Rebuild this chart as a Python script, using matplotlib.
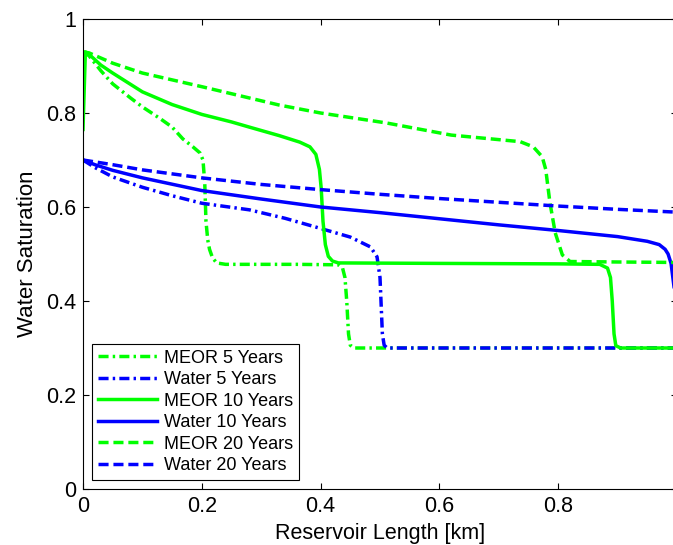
import matplotlib
matplotlib.use("Agg")
import matplotlib.pyplot as plt

plt.rcParams["font.family"] = ["Liberation Sans", "DejaVu Sans"]

GREEN = "#00ff00"
BLUE = "#0000ff"

# MEOR 5 years
meor5_x = [0.0, 0.01, 0.03, 0.05, 0.08, 0.10, 0.13, 0.15, 0.168, 0.185, 0.197, 0.202,
           0.205, 0.207, 0.210, 0.213, 0.218, 0.225, 0.24, 0.30, 0.36, 0.43, 0.437,
           0.441, 0.444, 0.447, 0.450, 0.456, 0.60, 0.80, 1.0]
meor5_y = [0.93, 0.922, 0.89, 0.862, 0.832, 0.813, 0.788, 0.770, 0.745, 0.728, 0.715,
           0.700, 0.650, 0.570, 0.530, 0.510, 0.492, 0.481, 0.478, 0.478, 0.478, 0.477,
           0.470, 0.450, 0.400, 0.330, 0.306, 0.300, 0.300, 0.300, 0.300]

# Water 5 years
water5_x = [0.0, 0.02, 0.05, 0.10, 0.15, 0.20, 0.28, 0.34, 0.39, 0.45, 0.484, 0.495,
            0.500, 0.502, 0.504, 0.507, 0.512, 0.60, 0.80, 1.0]
water5_y = [0.700, 0.684, 0.664, 0.642, 0.624, 0.608, 0.594, 0.576, 0.558, 0.536,
            0.515, 0.494, 0.450, 0.390, 0.330, 0.306, 0.300, 0.300, 0.300, 0.300]

# MEOR 10 years
meor10_x = [0.0, 0.004, 0.01, 0.03, 0.05, 0.10, 0.15, 0.20, 0.25, 0.28, 0.33, 0.365,
            0.382, 0.392, 0.398, 0.401, 0.404, 0.408, 0.413, 0.420, 0.430, 0.60, 0.80,
            0.870, 0.883, 0.888, 0.891, 0.894, 0.897, 0.905, 1.0]
meor10_y = [0.765, 0.930, 0.925, 0.902, 0.885, 0.845, 0.818, 0.797, 0.781, 0.770,
            0.752, 0.738, 0.728, 0.712, 0.680, 0.640, 0.570, 0.520, 0.495, 0.485, 0.481,
            0.480, 0.479, 0.478, 0.470, 0.450, 0.400, 0.330, 0.305, 0.300, 0.300]

# Water 10 years
water10_x = [0.0, 0.02, 0.05, 0.10, 0.20, 0.30, 0.40, 0.50, 0.60, 0.70, 0.80, 0.90,
             0.95, 0.97, 0.98, 0.985, 0.99, 0.993, 0.997]
water10_y = [0.700, 0.690, 0.678, 0.662, 0.635, 0.617, 0.600, 0.588, 0.575, 0.562,
             0.550, 0.537, 0.527, 0.520, 0.510, 0.500, 0.480, 0.450, 0.410]

# MEOR 20 years
meor20_x = [0.0, 0.01, 0.05, 0.10, 0.20, 0.33, 0.40, 0.51, 0.62, 0.736, 0.758, 0.773,
            0.779, 0.786, 0.795, 0.807, 0.820, 0.90, 1.0]
meor20_y = [0.930, 0.928, 0.906, 0.885, 0.856, 0.817, 0.800, 0.779, 0.753, 0.739,
            0.728, 0.707, 0.680, 0.610, 0.545, 0.498, 0.484, 0.483, 0.482]

# Water 20 years
water20_x = [0.0, 0.05, 0.10, 0.20, 0.30, 0.40, 0.50, 0.60, 0.70, 0.80, 0.90, 1.0]
water20_y = [0.700, 0.690, 0.679, 0.662, 0.648, 0.637, 0.627, 0.618, 0.610, 0.602,
             0.595, 0.589]

tick_vals = [0, 0.2, 0.4, 0.6, 0.8, 1.0]
x_tick_labels = ["0", "0.2", "0.4", "0.6", "0.8", ""]
y_tick_labels = ["0", "0.2", "0.4", "0.6", "0.8", "1"]

LW = 2.5
DASH = (2.9, 1.4)
DASHDOT = (2.9, 1.2, 0.7, 1.2)

fig = plt.figure(figsize=(6.73, 5.45), dpi=100)
ax = fig.add_axes([83 / 673, 56 / 545, (677 - 83) / 673, 470 / 545])

ax.plot(meor5_x, meor5_y, color=GREEN, lw=LW, dashes=DASHDOT, label="MEOR 5 Years")
ax.plot(water5_x, water5_y, color=BLUE, lw=LW, dashes=DASHDOT, label="Water 5 Years")
ax.plot(meor10_x, meor10_y, color=GREEN, lw=LW, label="MEOR 10 Years")
ax.plot(water10_x, water10_y, color=BLUE, lw=LW, label="Water 10 Years")
ax.plot(meor20_x, meor20_y, color=GREEN, lw=LW, dashes=DASH, label="MEOR 20 Years")
ax.plot(water20_x, water20_y, color=BLUE, lw=LW, dashes=DASH, label="Water 20 Years")

ax.set_xlim(0, 1)
ax.set_ylim(0, 1)
ax.set_xticks(tick_vals)
ax.set_xticklabels(x_tick_labels)
ax.set_yticks(tick_vals)
ax.set_yticklabels(y_tick_labels)
ax.tick_params(direction="in", length=4.5, width=0.8, top=True, right=True,
               labelsize=15.5, pad=5)
for s in ax.spines.values():
    s.set_linewidth(0.8)

ax.set_xlabel("Reservoir Length [km]", fontsize=15.5, labelpad=4)
ax.set_ylabel("Water Saturation", fontsize=16, labelpad=6)

leg = ax.legend(loc="lower left", bbox_to_anchor=(0.015, 0.019), borderaxespad=0,
                fontsize=13, handlelength=3.3, handletextpad=0.35,
                labelspacing=0.25, borderpad=0.33, fancybox=False, framealpha=1)
leg.get_frame().set_edgecolor("black")
leg.get_frame().set_linewidth(0.8)

fig.savefig("out.png", dpi=100)
